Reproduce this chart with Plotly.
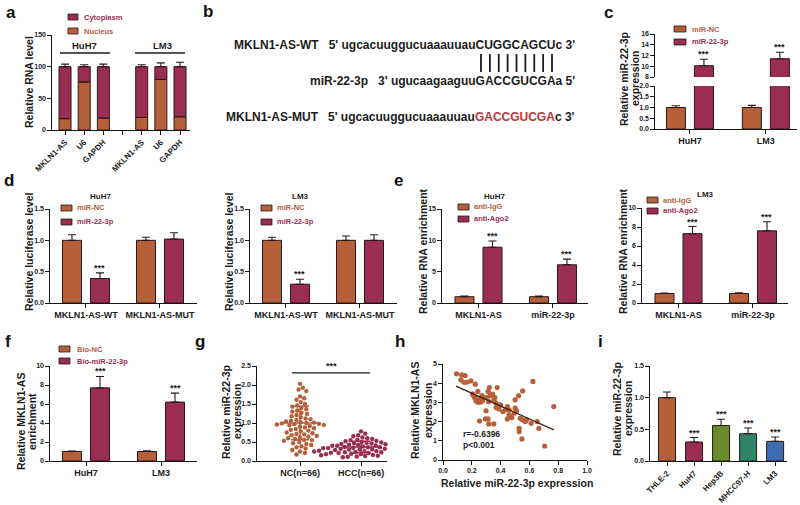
import numpy as np
import plotly.graph_objects as go

W, H = 800, 505
FONT = 'Liberation Sans, Arial, Helvetica, sans-serif'
BROWN = '#B6603A'
MAROON = '#9B2C52'
OLIVE = '#6B8B2B'
TEAL = '#2F8566'
BLUE = '#3E6CB2'
EDGE = '#2a1818'
INK = '#1c1c1c'
RED = '#C0353A'

# ---------------- data ----------------
# a: subcellular fractionation
a_labels = ['MKLN1-AS', 'U6', 'GAPDH', '', 'MKLN1-AS', 'U6', 'GAPDH']
a_pos = [0, 1, 2, 4, 5, 6]
a_nucleus = [18, 76, 19, 20, 80, 21]
a_nucleus_err = [5, 4, 4, 5, 5, 5]
a_cyto = [82, 24, 81, 80, 20, 79]
a_cyto_err = [4, 3, 4, 3, 6, 7]
a_groups = ['HuH7', 'LM3']

# b: binding sequences
b_wt_name, b_wt_seq, b_wt_site, b_wt_tail = 'MKLN1-AS-WT', 'ugcacuuggucuaaauuau', 'CUGGCAGCU', 'c'
b_mir_name, b_mir_seq, b_mir_site, b_mir_tail = 'miR-22-3p', 'ugucaagaaguu', 'GACCGUCGA', 'a'
b_mut_name, b_mut_seq, b_mut_site, b_mut_tail = 'MKLN1-AS-MUT', 'ugcacuuggucuaaauuau', 'GACCGUCGA', 'c'

# c
c_cells = ['HuH7', 'LM3']
c_nc = [1.0, 1.0]
c_nc_err = [0.08, 0.10]
c_mir = [10.1, 11.4]
c_mir_err = [1.2, 1.2]

# d
d_constructs = ['MKLN1-AS-WT', 'MKLN1-AS-MUT']
d_huh7_nc = [1.0, 1.0]
d_huh7_nc_err = [0.09, 0.05]
d_huh7_mir = [0.39, 1.02]
d_huh7_mir_err = [0.09, 0.10]
d_lm3_nc = [1.0, 1.0]
d_lm3_nc_err = [0.05, 0.07]
d_lm3_mir = [0.30, 1.00]
d_lm3_mir_err = [0.08, 0.09]

# e
e_targets = ['MKLN1-AS', 'miR-22-3p']
e_huh7_igg = [1.0, 1.0]
e_huh7_igg_err = [0.1, 0.1]
e_huh7_ago = [8.9, 6.1]
e_huh7_ago_err = [1.0, 0.9]
e_lm3_igg = [1.0, 1.0]
e_lm3_igg_err = [0.05, 0.07]
e_lm3_ago = [7.3, 7.6]
e_lm3_ago_err = [0.75, 0.95]

# f
f_cells = ['HuH7', 'LM3']
f_nc = [1.0, 1.0]
f_nc_err = [0.06, 0.08]
f_bio = [7.7, 6.2]
f_bio_err = [1.2, 0.95]

# g
g_groups = ['NC(n=66)', 'HCC(n=66)']
g_nc = [2.03, 1.93, 1.88, 1.84, 1.70, 1.65, 1.61, 1.55, 1.50, 1.46,
        1.43, 1.40, 1.36, 1.33, 1.30, 1.27, 1.24, 1.21, 1.18, 1.15,
        1.12, 1.10, 1.08, 1.06, 1.04, 1.02, 1.01, 1.00, 0.99, 0.98,
        0.97, 0.96, 0.95, 0.94, 0.92, 0.90, 0.88, 0.86, 0.84, 0.82,
        0.80, 0.78, 0.75, 0.73, 0.71, 0.70, 0.68, 0.66, 0.64, 0.62,
        0.60, 0.58, 0.56, 0.55, 0.53, 0.50, 0.47, 0.45, 0.42, 0.39,
        0.36, 0.33, 0.29, 0.25, 0.21, 0.17]
g_hcc = [0.78, 0.72, 0.68, 0.65, 0.62, 0.60, 0.58, 0.56, 0.55, 0.53,
         0.52, 0.50, 0.49, 0.48, 0.47, 0.46, 0.45, 0.44, 0.43, 0.42,
         0.41, 0.40, 0.40, 0.39, 0.38, 0.38, 0.37, 0.36, 0.36, 0.35,
         0.34, 0.34, 0.33, 0.32, 0.32, 0.31, 0.30, 0.30, 0.29, 0.28,
         0.28, 0.27, 0.26, 0.26, 0.25, 0.25, 0.24, 0.23, 0.23, 0.22,
         0.21, 0.21, 0.20, 0.19, 0.18, 0.18, 0.17, 0.16, 0.15, 0.14,
         0.13, 0.12, 0.11, 0.10, 0.22, 0.27]
g_mean = [1.00, 0.37]
g_sd = [0.44, 0.15]

# h
h_mir = [0.094, 0.129, 0.153, 0.125, 0.146, 0.165, 0.193, 0.224, 0.322, 0.376,
         0.313, 0.242, 0.344, 0.553, 0.525, 0.624, 0.212, 0.219, 0.235, 0.247,
         0.266, 0.275, 0.242, 0.228, 0.259, 0.282, 0.353, 0.369, 0.369, 0.388,
         0.360, 0.416, 0.447, 0.459, 0.501, 0.501, 0.511, 0.459, 0.478, 0.447,
         0.536, 0.553, 0.572, 0.529, 0.529, 0.548, 0.612, 0.654, 0.666, 0.769,
         0.706, 0.299, 0.254, 0.294, 0.313, 0.318, 0.353, 0.306, 0.329, 0.400,
         0.318, 0.435, 0.494, 0.581, 0.205, 0.271]
h_mkln = [4.49, 4.43, 4.40, 4.17, 4.05, 4.05, 4.12, 3.95, 3.77, 3.77,
          3.57, 3.57, 3.43, 3.60, 3.34, 4.09, 3.37, 3.25, 3.18, 3.13,
          3.22, 3.08, 3.01, 3.08, 3.01, 3.25, 3.13, 2.96, 2.73, 2.66,
          3.25, 2.52, 2.78, 2.61, 2.70, 3.13, 2.56, 2.35, 2.21, 2.14,
          2.17, 2.09, 2.00, 1.65, 1.48, 1.10, 1.91, 2.00, 1.65, 2.78,
          0.73, 2.56, 2.03, 2.14, 2.14, 1.88, 1.88, 3.25, 3.36, 2.87,
          3.04, 2.61, 2.44, 2.09, 3.44, 3.36]
h_fit_x = [0.09, 0.77]
h_fit_y = [3.85, 1.57]
h_stats = ['r=-0.6396', 'p<0.001']

# i
i_cells = ['THLE-2', 'HuH7', 'Hep3B', 'MHCC97-H', 'LM3']
i_vals = [1.0, 0.30, 0.56, 0.43, 0.31]
i_err = [0.09, 0.07, 0.10, 0.09, 0.07]
i_colors = [BROWN, MAROON, OLIVE, TEAL, BLUE]
i_stars = ['', '***', '***', '***', '***']

# ---------------- helpers ----------------
fig = go.Figure()
layout = {}
annotations = []
shapes = []
AXD = {}
TICK = 7


def aname(n, l):
    return f'{l}axis' if n == 1 else f'{l}axis{n}'


def r(n, l):
    return l if n == 1 else f'{l}{n}'


def base_axis():
    return dict(showline=True, linecolor='#151515', linewidth=1.2, ticks='outside',
                ticklen=3.5, tickwidth=1.2, tickcolor='#151515', showgrid=False,
                zeroline=False, fixedrange=True, automargin=False)


def set_x(n, dom, rng, tickvals, ticktext, anchor_n=None, size=9, angle=0):
    d = base_axis()
    d.update(domain=[dom[0] / W, dom[1] / W], range=rng, anchor=r(anchor_n or n, 'y'),
             tickmode='array', tickvals=tickvals, tickangle=angle,
             tickfont=dict(family=FONT, size=size, color=INK, weight='bold'))
    if ticktext is not None:
        d['ticktext'] = ticktext
    layout[aname(n, 'x')] = d
    AXD[n] = (dom, rng)


def set_y(n, dom, rng, tickvals, fmt=None, anchor='x'):
    d = base_axis()
    d.update(domain=[1 - dom[1] / H, 1 - dom[0] / H], range=rng, anchor=anchor,
             tickmode='array', tickvals=tickvals,
             tickfont=dict(family=FONT, size=TICK, color=INK, weight='bold'))
    if fmt:
        d['tickformat'] = fmt
    layout[aname(n, 'y')] = d


def text(xp, yp, s, size=10.5, color=INK, angle=0, xanchor='center', yanchor='middle'):
    annotations.append(dict(x=xp / W, y=1 - yp / H, xref='paper', yref='paper', text=s,
                            showarrow=False, textangle=angle, xanchor=xanchor,
                            yanchor=yanchor,
                            font=dict(family=FONT, size=size, color=color, weight='bold')))


def ytitle(xs, yc, lines, size=10.5):
    for xp, s in zip(xs, lines):
        text(xp, yc, s, size=size, angle=-90)


def hline(x0, x1, y, width=1.3, color=INK):
    shapes.append(dict(type='line', xref='paper', yref='paper', x0=x0 / W, x1=x1 / W,
                       y0=1 - y / H, y1=1 - y / H, line=dict(color=color, width=width)))


def legend_item(x0, x1, yc, color, label, tx):
    shapes.append(dict(type='rect', xref='paper', yref='paper', x0=x0 / W, x1=x1 / W,
                       y0=1 - (yc + 3) / H, y1=1 - (yc - 3) / H, fillcolor=color,
                       line=dict(color=EDGE, width=0.8)))
    text(tx, yc, label, size=7.5, color=color, xanchor='left')


def unit(n):
    dom, rng = AXD[n]
    return (dom[1] - dom[0]) / (rng[1] - rng[0])


def bar(xn, yn, pos, vals, errs, color, off, w, base=None):
    fig.add_trace(go.Bar(
        x=pos, y=vals, base=base, xaxis=r(xn, 'x'), yaxis=r(yn, 'y'), offset=off, width=w,
        marker=dict(color=color, line=dict(color=EDGE, width=1)), showlegend=False,
        error_y=dict(type='data', array=errs, arrayminus=[0] * len(errs), symmetric=False,
                     color=EDGE, thickness=1.1, width=4)))


def star(xn, yn, x, y, s='***'):
    annotations.append(dict(x=x, y=y, xref=r(xn, 'x'), yref=r(yn, 'y'), text=s,
                            showarrow=False, yanchor='bottom', yshift=-2,
                            font=dict(family=FONT, size=9, color=INK, weight='bold')))


def grouped(n, cats, s1, e1, c1, s2, e2, c2, stars_on=None, yn=None):
    yn = yn or n
    u = unit(n)
    half, w = 14 / u, 19 / u
    pos = list(range(len(cats)))
    bar(n, yn, pos, s1, e1, c1, -half - w / 2, w)
    bar(n, yn, pos, s2, e2, c2, half - w / 2, w)
    if stars_on is not None:
        for p, v, e, s in zip(pos, s2, e2, stars_on):
            if s:
                star(n, yn, p + half, v + e)


# ---------------- panel a ----------------
set_x(1, (52, 190), [-0.68, 6.52], list(range(7)), a_labels, size=8, angle=-45)
set_y(1, (35, 130), [0, 150], [0, 50, 100, 150])
ua = unit(1)
wa = 12 / ua
bar(1, 1, a_pos, a_nucleus, a_nucleus_err, BROWN, -wa / 2, wa)
bar(1, 1, a_pos, a_cyto, a_cyto_err, MAROON, -wa / 2, wa, base=a_nucleus)
legend_item(68, 78, 17, MAROON, 'Cytoplasm', 82)
legend_item(68, 78, 31, BROWN, 'Nucleus', 82)
text(84, 46, a_groups[0], size=9.5)
text(162, 46, a_groups[1], size=9.5)
hline(60, 110, 53)
hline(135, 185, 53)
ytitle([29], 82, ['Relative RNA level'])

# ---------------- panel b ----------------
NB = '\u00a0'
BS = 12
text(577, 45, f'{b_wt_name}{NB*2} 5\' {b_wt_seq}{b_wt_site}{b_wt_tail} 3\'', size=BS, xanchor='right')
text(577, 81, f'{b_mir_name}{NB*2} 3\' {b_mir_seq}{b_mir_site}{b_mir_tail} 5\'', size=BS, xanchor='right')
text(577, 117, f'{b_mut_name}{NB*2} 5\' {b_mut_seq}<span style="color:{RED}">{b_mut_site}</span>{b_mut_tail} 3\'',
     size=BS, xanchor='right')
for k in range(len(b_wt_site)):
    xk = 481 + k * (552 - 481) / (len(b_wt_site) - 1)
    shapes.append(dict(type='line', xref='paper', yref='paper', x0=xk / W, x1=xk / W,
                       y0=1 - 54 / H, y1=1 - 72 / H, line=dict(color=INK, width=1.8)))

# ---------------- panel c (broken axis) ----------------
set_x(2, (655, 797), [-0.46, 1.41], [0, 1], c_cells)
set_y(2, (86, 129), [0, 2], [0, 0.5, 1.0, 1.5, 2.0], fmt='.1f', anchor='x2')
set_y(3, (34, 77), [8, 16], [8, 10, 12, 14, 16], anchor='x2')
grouped(2, c_cells, c_nc, c_nc_err, BROWN, c_mir, c_mir_err, MAROON)
grouped(2, c_cells, c_nc, c_nc_err, BROWN, c_mir, c_mir_err, MAROON, stars_on=[1, 1], yn=3)
legend_item(674, 686, 29, BROWN, 'miR-NC', 690)
legend_item(674, 686, 42, MAROON, 'miR-22-3p', 690)
ytitle([624, 635], 79, ['Relative miR-22-3p', 'expression'])

# ---------------- panel d ----------------
for n, x0, title, nc, nce, mir, mire in [
        (4, 50, 'HuH7', d_huh7_nc, d_huh7_nc_err, d_huh7_mir, d_huh7_mir_err),
        (5, 250, 'LM3', d_lm3_nc, d_lm3_nc_err, d_lm3_mir, d_lm3_mir_err)]:
    set_x(n, (x0, x0 + 147), [-0.486, 1.5], [0, 1], d_constructs)
    set_y(n, (209, 303), [0, 1.5], [0, 0.5, 1.0, 1.5], fmt='.1f', anchor=r(n, 'x'))
    grouped(n, d_constructs, nc, nce, BROWN, mir, mire, MAROON, stars_on=[1, 0])
    legend_item(x0 + 11, x0 + 22, 208, BROWN, 'miR-NC', x0 + 25)
    legend_item(x0 + 11, x0 + 22, 222, MAROON, 'miR-22-3p', x0 + 25)
    text(x0 + 50, 196, title, size=8)
    ytitle([x0 - 21], 252, ['Relative luciferase level'])

# ---------------- panel e ----------------
for n, x0, title, yr, yt, ydom, igg, igge, ago, agoe, leg_y in [
        (6, 442, 'HuH7', [0, 15], [0, 5, 10, 15], (209, 303), e_huh7_igg, e_huh7_igg_err,
         e_huh7_ago, e_huh7_ago_err, (207, 219)),
        (7, 642, 'LM3', [0, 10], [0, 2, 4, 6, 8, 10], (208, 303), e_lm3_igg, e_lm3_igg_err,
         e_lm3_ago, e_lm3_ago_err, (200, 211))]:
    set_x(n, (x0, x0 + 146), [-0.49, 1.47], [0, 1], e_targets)
    set_y(n, ydom, yr, yt, anchor=r(n, 'x'))
    grouped(n, e_targets, igg, igge, BROWN, ago, agoe, MAROON, stars_on=[1, 1])
    lx = x0 + 16 if n == 6 else x0 + 5
    legend_item(lx, lx + 11, leg_y[0], BROWN, 'anti-IgG', lx + 14)
    legend_item(lx, lx + 11, leg_y[1], MAROON, 'anti-Ago2', lx + 14)
    text(x0 + 52 if n == 6 else x0 + 63, 196 if n == 6 else 194, title, size=8)
    ytitle([x0 - 19], 251, ['Relative RNA enrichment'])

# ---------------- panel f ----------------
set_x(8, (50, 197), [-0.48, 1.48], [0, 1], f_cells)
set_y(8, (366, 461), [0, 10], [0, 2, 4, 6, 8, 10], anchor='x8')
grouped(8, f_cells, f_nc, f_nc_err, BROWN, f_bio, f_bio_err, MAROON, stars_on=[1, 1])
legend_item(59, 70, 349, BROWN, 'Bio-NC', 75)
legend_item(59, 70, 361, MAROON, 'Bio-miR-22-3p', 75)
ytitle([21, 32], 422, ['Relative MKLN1-AS', 'enrichment'])

# ---------------- panel g ----------------
set_x(9, (257, 387), [-0.705, 1.426], [0, 1], g_groups)
set_y(9, (366, 461), [0, 2.5], [0, 0.5, 1.0, 1.5, 2.0, 2.5], fmt='.1f', anchor='x9')
ux = unit(9)
uy = 95 / 2.5


def swarm(vals, diam=4.6):
    vals = np.asarray(vals, float)
    order = np.argsort(-vals)
    placed = []
    out = np.zeros(len(vals))
    cands = [0.0]
    for k in range(1, 80):
        cands += [k * 0.7, -k * 0.7]
    for i in order:
        yy = vals[i] * uy
        for c in cands:
            if all((c - px_) ** 2 + (yy - py_) ** 2 >= diam ** 2 for px_, py_ in placed):
                placed.append((c, yy))
                out[i] = c / ux
                break
    return out


for gi, (vals, col) in enumerate([(g_nc, BROWN), (g_hcc, MAROON)]):
    xs = gi + swarm(vals)
    fig.add_trace(go.Scatter(x=xs, y=vals, mode='markers', xaxis='x9', yaxis='y9',
                             marker=dict(color=col, size=4.4), showlegend=False,
                             cliponaxis=False))
    fig.add_trace(go.Scatter(x=[gi - 0.32, gi + 0.32], y=[g_mean[gi]] * 2, mode='lines',
                             xaxis='x9', yaxis='y9', line=dict(color=col, width=1.6),
                             showlegend=False))
    fig.add_trace(go.Scatter(x=[gi], y=[g_mean[gi]], mode='markers', xaxis='x9', yaxis='y9',
                             marker=dict(size=1, color='rgba(0,0,0,0)'), showlegend=False,
                             error_y=dict(type='data', array=[g_sd[gi]], color=col,
                                          thickness=1.5, width=9)))
shapes.append(dict(type='line', xref='x9', yref='y9', x0=-0.13, x1=1.15, y0=2.32, y1=2.32,
                   line=dict(color=INK, width=1.4)))
annotations.append(dict(x=0.51, y=2.32, xref='x9', yref='y9', text='***', showarrow=False,
                        yanchor='bottom', yshift=0,
                        font=dict(family=FONT, size=9, color=INK, weight='bold')))
ytitle([226, 237], 412, ['Relative miR-22-3p', 'expression'])

# ---------------- panel h ----------------
set_x(10, (443, 587), [0, 1], [0, 0.2, 0.4, 0.6, 0.8, 1.0], None, size=TICK)
layout['xaxis10']['tickformat'] = '.1f'
set_y(10, (364, 460), [0, 5], [0, 1, 2, 3, 4, 5], anchor='x10')
fig.add_trace(go.Scatter(x=h_mir, y=h_mkln, mode='markers', xaxis='x10', yaxis='y10',
                         marker=dict(color=BROWN, size=5.2), showlegend=False))
fig.add_trace(go.Scatter(x=h_fit_x, y=h_fit_y, mode='lines', xaxis='x10', yaxis='y10',
                         line=dict(color='#3a1e14', width=1.3), showlegend=False))
for k, s in enumerate(h_stats):
    annotations.append(dict(x=0.125, y=1.35 - k * 0.57, xref='x10', yref='y10', text=s,
                            showarrow=False, xanchor='left',
                            font=dict(family=FONT, size=8.5, color=INK, weight='bold')))
ytitle([415, 428], 411, ['Relative MKLN1-AS', 'expression'])
text(517, 483, 'Relative miR-22-3p expression')

# ---------------- panel i ----------------
set_x(11, (650, 787), [-0.63, 4.44], list(range(5)), i_cells, size=8, angle=-45)
set_y(11, (366, 461), [0, 1.5], [0, 0.5, 1.0, 1.5], fmt='.1f', anchor='x11')
ui = unit(11)
wi = 17 / ui
fig.add_trace(go.Bar(x=list(range(5)), y=i_vals, xaxis='x11', yaxis='y11', width=wi,
                     marker=dict(color=i_colors, line=dict(color=EDGE, width=1)),
                     showlegend=False,
                     error_y=dict(type='data', array=i_err, arrayminus=[0] * 5,
                                  symmetric=False, color=EDGE, thickness=1.1, width=4)))
for p, (v, e, s) in enumerate(zip(i_vals, i_err, i_stars)):
    if s:
        star(11, 11, p, v + e, s)
ytitle([617, 628], 409, ['Relative miR-22-3p', 'expression'])

# ---------------- panel letters ----------------
for L, xl, yl in [('a', 11, 12), ('b', 208, 11), ('c', 608, 12), ('d', 9, 180),
                  ('e', 398, 180), ('f', 8, 341), ('g', 200, 341), ('h', 400, 341),
                  ('i', 600, 341)]:
    text(xl, yl, L, size=17, color='#111')

layout.update(width=W, height=H,
              margin=dict(l=0, r=0, t=0, b=0, pad=0, autoexpand=False),
              paper_bgcolor='white', plot_bgcolor='white', showlegend=False,
              barmode='overlay', annotations=annotations, shapes=shapes,
              font=dict(family=FONT, color=INK))
fig.update_layout(**layout)
fig.write_html('out.html', config={'displayModeBar': False},
               post_script="document.body.style.margin='0';document.body.style.overflow='hidden';")
